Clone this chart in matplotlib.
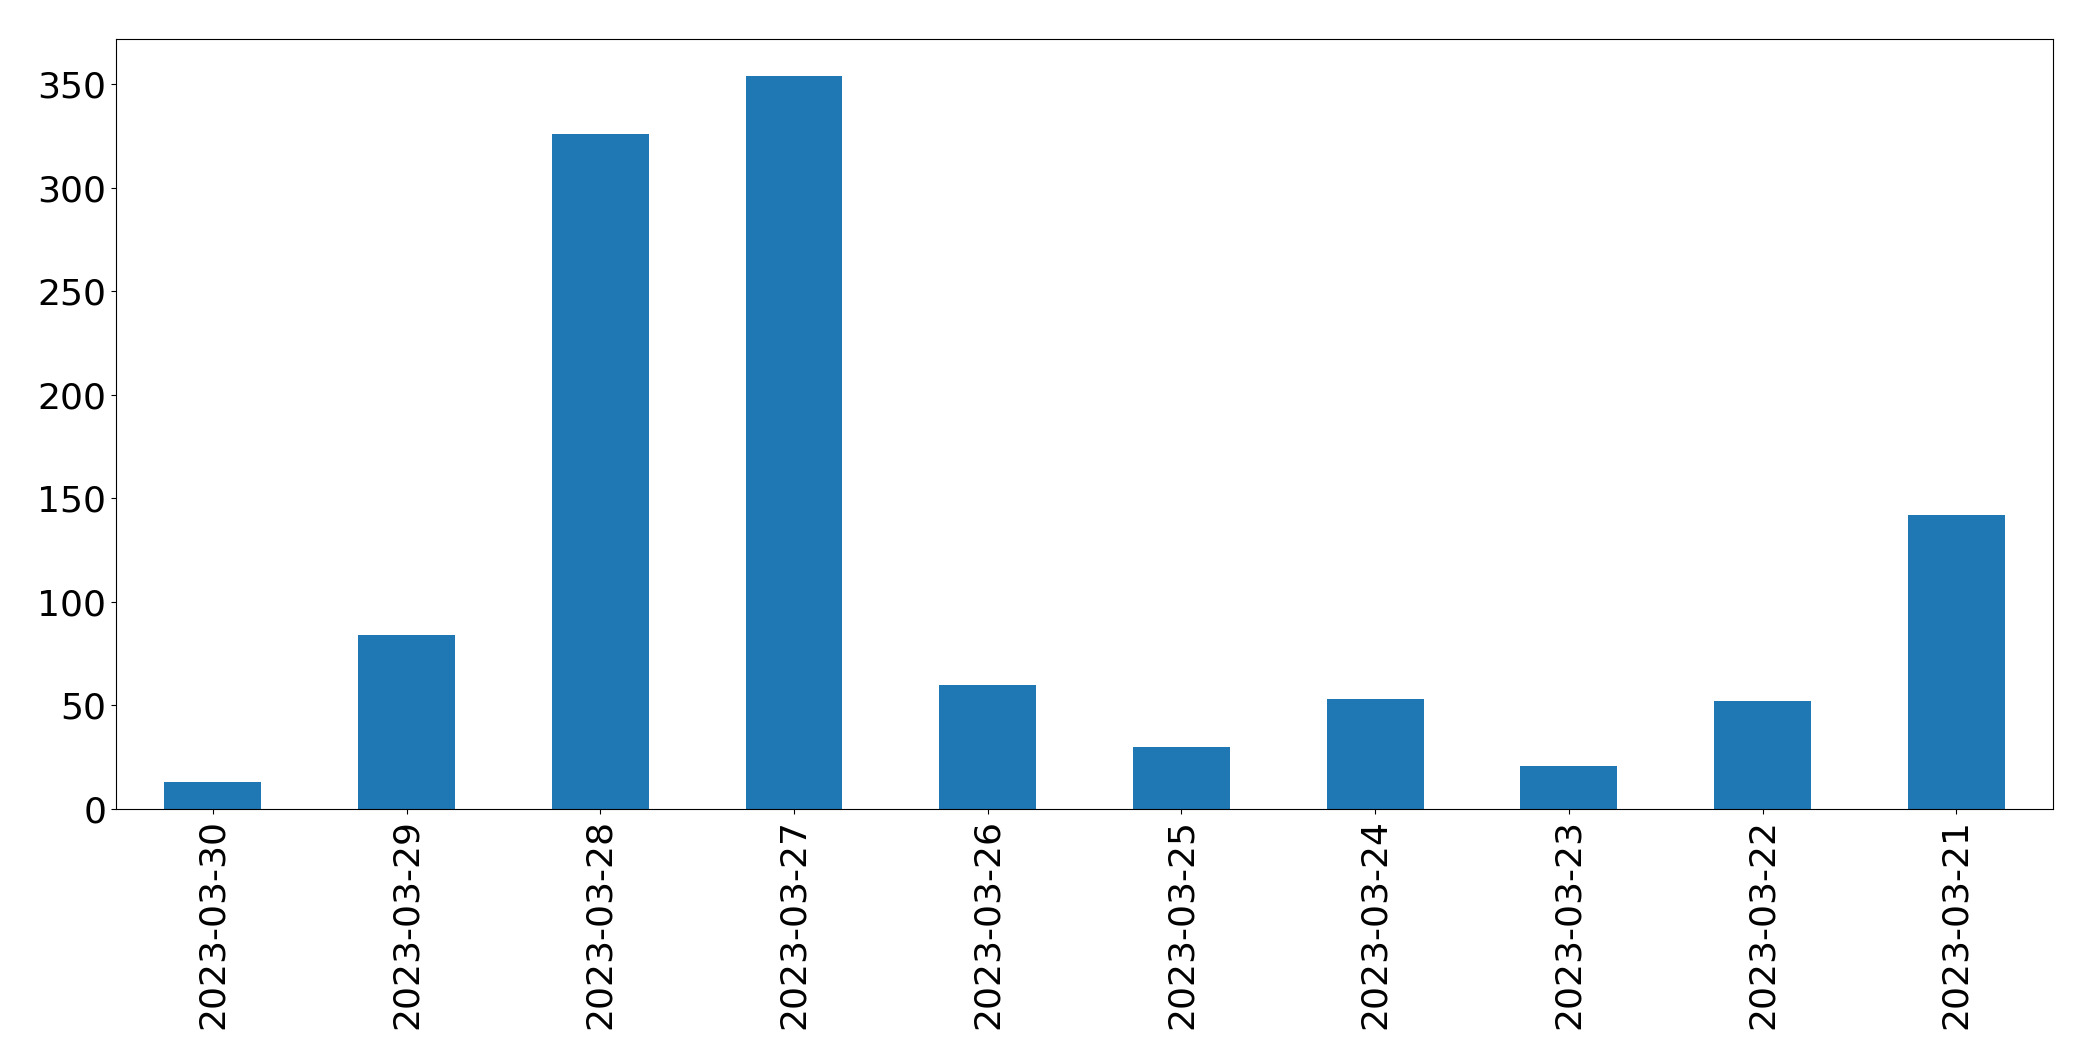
import matplotlib
matplotlib.use("Agg")
import matplotlib.pyplot as plt
import pandas as pd

# --- data ---
dates = ["2023-03-30", "2023-03-29", "2023-03-28", "2023-03-27", "2023-03-26",
         "2023-03-25", "2023-03-24", "2023-03-23", "2023-03-22", "2023-03-21"]
counts = [13, 84, 326, 354, 60, 30, 53, 21, 52, 142]

series = pd.Series(counts, index=dates)

fig, ax = plt.subplots(figsize=(20.93, 10.61), dpi=100)
series.plot.bar(ax=ax, color="#1f77b4", width=0.5)

ax.tick_params(axis="both", labelsize=26)
fig.subplots_adjust(left=0.0554, right=0.981, top=0.963, bottom=0.2375)

fig.savefig("out.png", dpi=100)
